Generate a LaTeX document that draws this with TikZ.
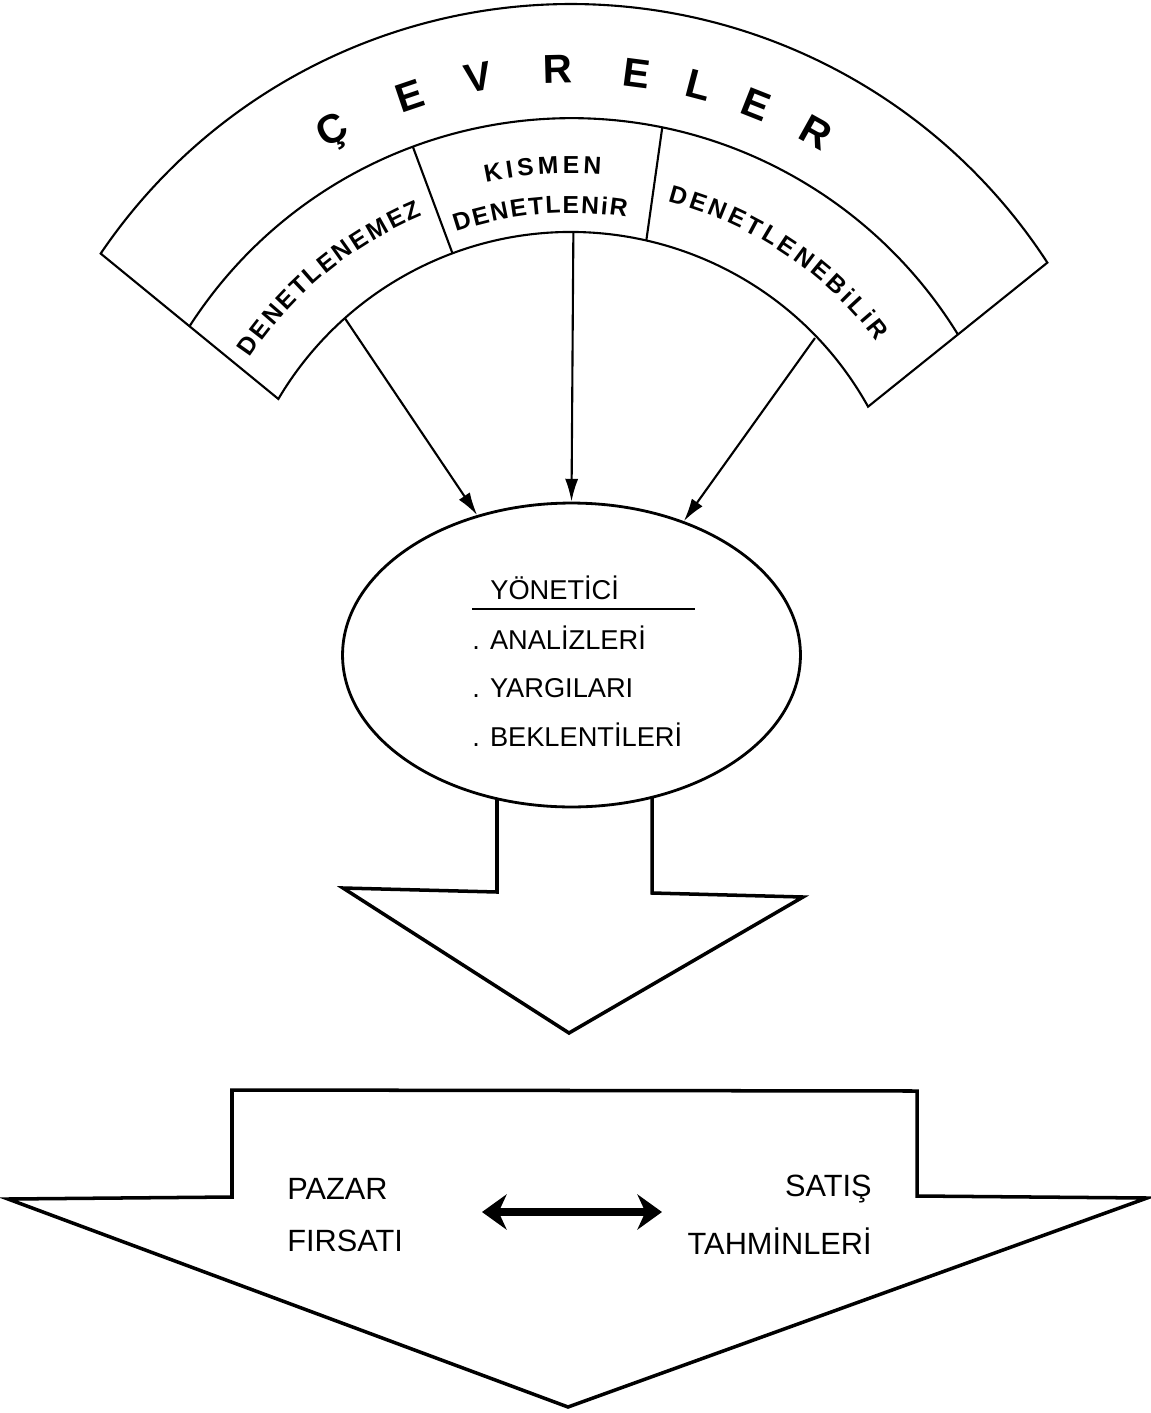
\documentclass[tikz,border=0pt]{standalone}
\usepackage{fontspec}
\setmainfont{Liberation Sans}
\usepackage{tikz}
\usetikzlibrary{arrows.meta, positioning, calc, shapes.geometric, decorations.text}

\begin{document}
\begin{tikzpicture}[x=0.02cm, y=0.02cm]
  \tikzset{outline/.style={draw=black, line width=1.2pt, line join=miter}}
  \tikzset{blockarrow/.style={draw=black, line width=2pt, line join=miter}}
  \tikzset{feed/.style={line width=1.2pt, -{Latex[length=13pt, width=7.5pt]}}}
  \tikzset{bandlabel/.style={decorate, decoration={text along path, text align=fit to path,
                        text={|\fontsize{14}{14}\selectfont\bfseries|#1}}}}
  \tikzset{titleletter/.style={font=\fontsize{23}{23}\selectfont\bfseries, anchor=base, inner sep=0pt}}
  \tikzset{listtext/.style={font=\fontsize{15.5}{16}\selectfont, anchor=west, inner sep=0pt}}
  \tikzset{outtext/.style={font=\fontsize{17.5}{18}\selectfont, inner sep=0pt}}

  \useasboundingbox (0,0) rectangle (1151,-1413);

  % Centre of the arcs and ends of the band
  \coordinate (C)  at (571,-572);
  \coordinate (oL) at ($(C)+(145.9:568)$);
  \coordinate (iL) at ($(C)+(149.4:340)$);
  \coordinate (iR) at ($(C)+(29.1:340)$);

  % Outer band
  \draw[outline] (oL) arc[start angle=145.9, end angle=33, radius=568]
    -- (iR) arc[start angle=29.1, end angle=149.4, radius=340] -- cycle;
  \draw[outline] ($(oL)!0.5!(iL)$) arc[start angle=147.2, end angle=31.5, radius=454];
  % Dividers of the inner band
  \draw[outline] ($(C)+(110.4:454)$) -- ($(C)+(110.4:340)$);
  \draw[outline] ($(C)+(78.4:454)$) -- ($(C)+(77.2:340)$);

  % Title letters
  \foreach \ch/\a [count=\i] in {Ç/118.4,E/108.7,V/100.6,R/91.5,E/82.5,L/75.3,E/68.4,R/60.9}{
    \node[titleletter, rotate=\a-90] (title\i) at ($(C)+(\a:489)$) {\ch};
  }

  % Labels of the three parts
  \path[bandlabel={DENETLENEMEZ}] ($(C)+(146.3:386)$) arc[start angle=146.3, end angle=112.6, radius=386];
  \path[bandlabel={KISMEN}] ($(C)+(102.3:399)$) arc[start angle=102.3, end angle=85.7, radius=399];
  \path[bandlabel={DENETLENiR}] ($(C)+(108.7:359)$) arc[start angle=108.7, end angle=81.1, radius=359];
  \path[bandlabel={DENETLENEBiLiR}] ($(C)+(75.4:383)$) arc[start angle=75.4, end angle=37, radius=383];

  % Manager ellipse
  \node[ellipse, draw, line width=1.6pt, minimum width=9.16cm, minimum height=6.08cm,
        inner sep=0pt] (mgr) at (571.5,-655) {};
  \node[listtext] (head) at (490,-588) {YÖNETİCİ};
  \coordinate (ulL) at (472,-609);
  \coordinate (ulR) at (695,-609);
  \draw[line width=1pt] (ulL) -- (ulR);
  \node[listtext] (anl) at (472,-638) {. ANALİZLERİ};
  \node[listtext] (yrg) at (472,-688) {. YARGILARI};
  \node[listtext] (bkl) at (472,-735) {. BEKLENTİLERİ};

  % Arrows from the band
  \coordinate (sL) at ($(C)+(131.7:340)$);
  \coordinate (sM) at ($(C)+(89.6:340)$);
  \coordinate (sR) at ($(C)+(43.8:338)$);
  \draw[feed] (sL) -- (mgr.124);
  \draw[feed] (sM) -- (mgr.north);
  \draw[feed] (sR) -- (mgr.50);

  % Block arrow below the ellipse
  \draw[blockarrow] (497,-798.7) -- (497,-892) -- (343,-888) -- (569,-1033)
    -- (803,-897) -- (652,-893) -- (652,-797.3);

  % Lower block arrow
  \draw[blockarrow] (232,-1090) -- (917,-1091) -- (917,-1196) -- (1147,-1198)
    -- (568,-1407) -- (8,-1199) -- (232,-1197) -- cycle;
  \node[outtext, anchor=west] (pzr) at (287,-1189) {PAZAR};
  \node[outtext, anchor=west] (frs) at (287,-1241) {FIRSATI};
  \node[outtext, anchor=east] (sts) at (872,-1189) {SATIŞ};
  \node[outtext, anchor=east] (thm) at (872,-1241) {TAHMİNLERİ};
  \coordinate (dL) at (482,-1212);
  \coordinate (dR) at (662,-1212);
  \draw[line width=5pt, {Stealth[length=14pt, width=20pt]}-{Stealth[length=14pt, width=20pt]}] (dL) -- (dR);
\end{tikzpicture}
\end{document}
